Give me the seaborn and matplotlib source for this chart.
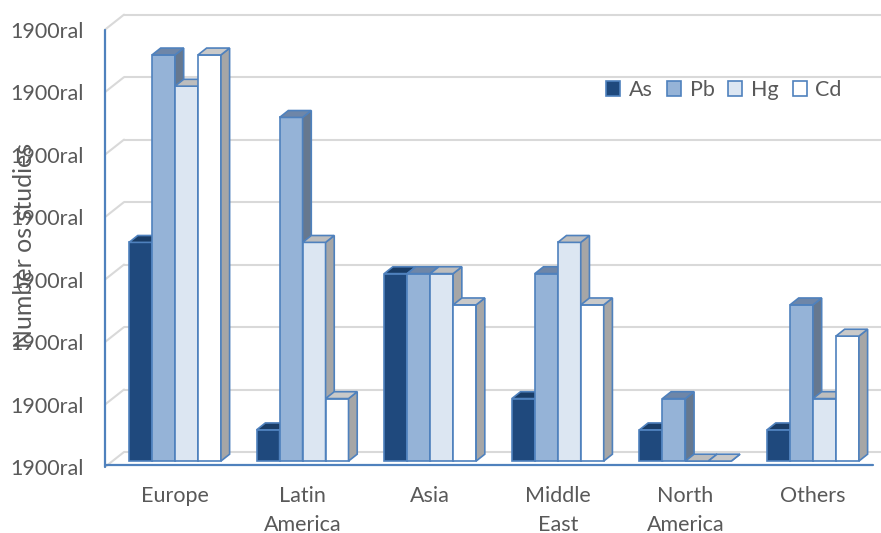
import numpy as np
import pandas as pd
import matplotlib
matplotlib.use("Agg")
import matplotlib.pyplot as plt
from matplotlib.patches import Polygon, Patch
import seaborn as sns

# ---- data -------------------------------------------------------------
regions = ["Europe", "Latin\nAmerica", "Asia", "Middle\nEast", "North\nAmerica", "Others"]
metals = ["As", "Pb", "Hg", "Cd"]
as_counts = [7, 1, 6, 2, 1, 1]
pb_counts = [13, 11, 6, 6, 2, 5]
hg_counts = [12, 7, 6, 7, 0, 2]
cd_counts = [13, 2, 5, 5, 0, 4]
tick_values = [0, 2, 4, 6, 8, 10, 12, 14]
tick_labels = ["1900ral"] * len(tick_values)

# ---- styling ----------------------------------------------------------
face_colors = ["#1F497D", "#95B3D7", "#DCE6F2", "#FFFFFF"]
top_colors = ["#193C66", "#6E86A8", "#BDBDBD", "#C9C9C9"]
side_colors = ["#142F50", "#66788F", "#A6A6A6", "#A6A6A6"]
edge_blue = "#4F81BD"
grid_gray = "#D9D9D9"
text_gray = "#595959"
fs = 15.5

sns.set_theme(style="white")
plt.rcParams["font.family"] = ["Lato", "DejaVu Sans"]

df = pd.DataFrame({
    "region": np.repeat(regions, len(metals)),
    "metal": metals * len(regions),
    "count": np.column_stack([as_counts, pb_counts, hg_counts, cd_counts]).ravel(),
})

fig = plt.figure(figsize=(8.81, 5.33), dpi=100)
ax = fig.add_axes([105 / 881, 1 - 467 / 533, 776 / 881, 453 / 533])

sns.barplot(data=df, x="region", y="count", hue="metal", order=regions,
            hue_order=metals, palette=face_colors, saturation=1,
            edgecolor=edge_blue, linewidth=1.2, width=0.72,
            errorbar=None, legend=False, ax=ax)

x_left, x_right = -0.5486, 5.533
y_front = -0.19          # front edge of the floor
back_dx, back_dy = 0.149, 0.48   # depth of back wall
ax.set_xlim(x_left, x_right)
ax.set_ylim(y_front, y_front + 14.5)

# back wall gridlines and side-wall diagonals
for v in tick_values:
    yf = v + y_front
    ax.plot([x_left + back_dx, x_right], [yf + back_dy, yf + back_dy],
            color=grid_gray, lw=1.5, zorder=1, clip_on=False,
            solid_capstyle="butt")
    ax.plot([x_left, x_left + back_dx], [yf, yf + back_dy],
            color=grid_gray, lw=1.5, zorder=1, clip_on=False)

# 3-D faces on every bar, painted left to right
bar_dx, bar_dy = 0.068, 0.22
bars = []
for i, cont in enumerate(ax.containers):
    for p in cont.patches:
        bars.append((p.get_x(), i, p))
bars.sort(key=lambda t: t[0])
for rank, (_, i, p) in enumerate(bars):
    z = 3 + 3 * rank
    x0 = p.get_x()
    x1 = x0 + p.get_width()
    h = p.get_height()
    p.set_zorder(z)
    side = Polygon([(x1, 0), (x1 + bar_dx, bar_dy), (x1 + bar_dx, h + bar_dy), (x1, h)],
                   closed=True, facecolor=side_colors[i], edgecolor=edge_blue,
                   lw=1.2, zorder=z + 1, joinstyle="miter")
    top = Polygon([(x0, h), (x0 + bar_dx, h + bar_dy), (x1 + bar_dx, h + bar_dy), (x1, h)],
                  closed=True, facecolor=top_colors[i], edgecolor=edge_blue,
                  lw=1.2, zorder=z + 2, joinstyle="miter")
    ax.add_patch(side)
    ax.add_patch(top)

# front frame
for s in ax.spines.values():
    s.set_visible(False)
ax.plot([x_left, x_left], [y_front, y_front + 14], color=edge_blue, lw=1.6,
        zorder=200, clip_on=False)
ax.plot([x_left, 5.47], [y_front + 0.06, y_front + 0.06], color=edge_blue, lw=1.6,
        zorder=200, clip_on=False)

# axes text
ax.set_yticks([v + y_front for v in tick_values])
ax.set_yticklabels(tick_labels)
ax.tick_params(axis="y", length=0, pad=15.5, labelsize=fs, labelcolor=text_gray)
ax.tick_params(axis="x", length=0, pad=13.5, labelsize=fs, labelcolor=text_gray)
for lab in ax.get_xticklabels():
    lab.set_linespacing(1.56)
    lab.set_verticalalignment("top")
ax.set_xlabel("")
ax.set_ylabel("Number os studies", fontsize=18, color=text_gray)
ax.yaxis.set_label_coords(-0.089, 0.49)

handles = [Patch(facecolor=c, edgecolor=edge_blue, lw=1.2) for c in face_colors]
fig.legend(handles, metals, loc="center", bbox_to_anchor=(724 / 881, 1 - 90 / 533),
           ncol=4, frameon=False, fontsize=fs, labelcolor=text_gray,
           handlelength=0.65, handleheight=0.65, handletextpad=0.4,
           columnspacing=0.65)

fig.savefig("out.png", dpi=100)
